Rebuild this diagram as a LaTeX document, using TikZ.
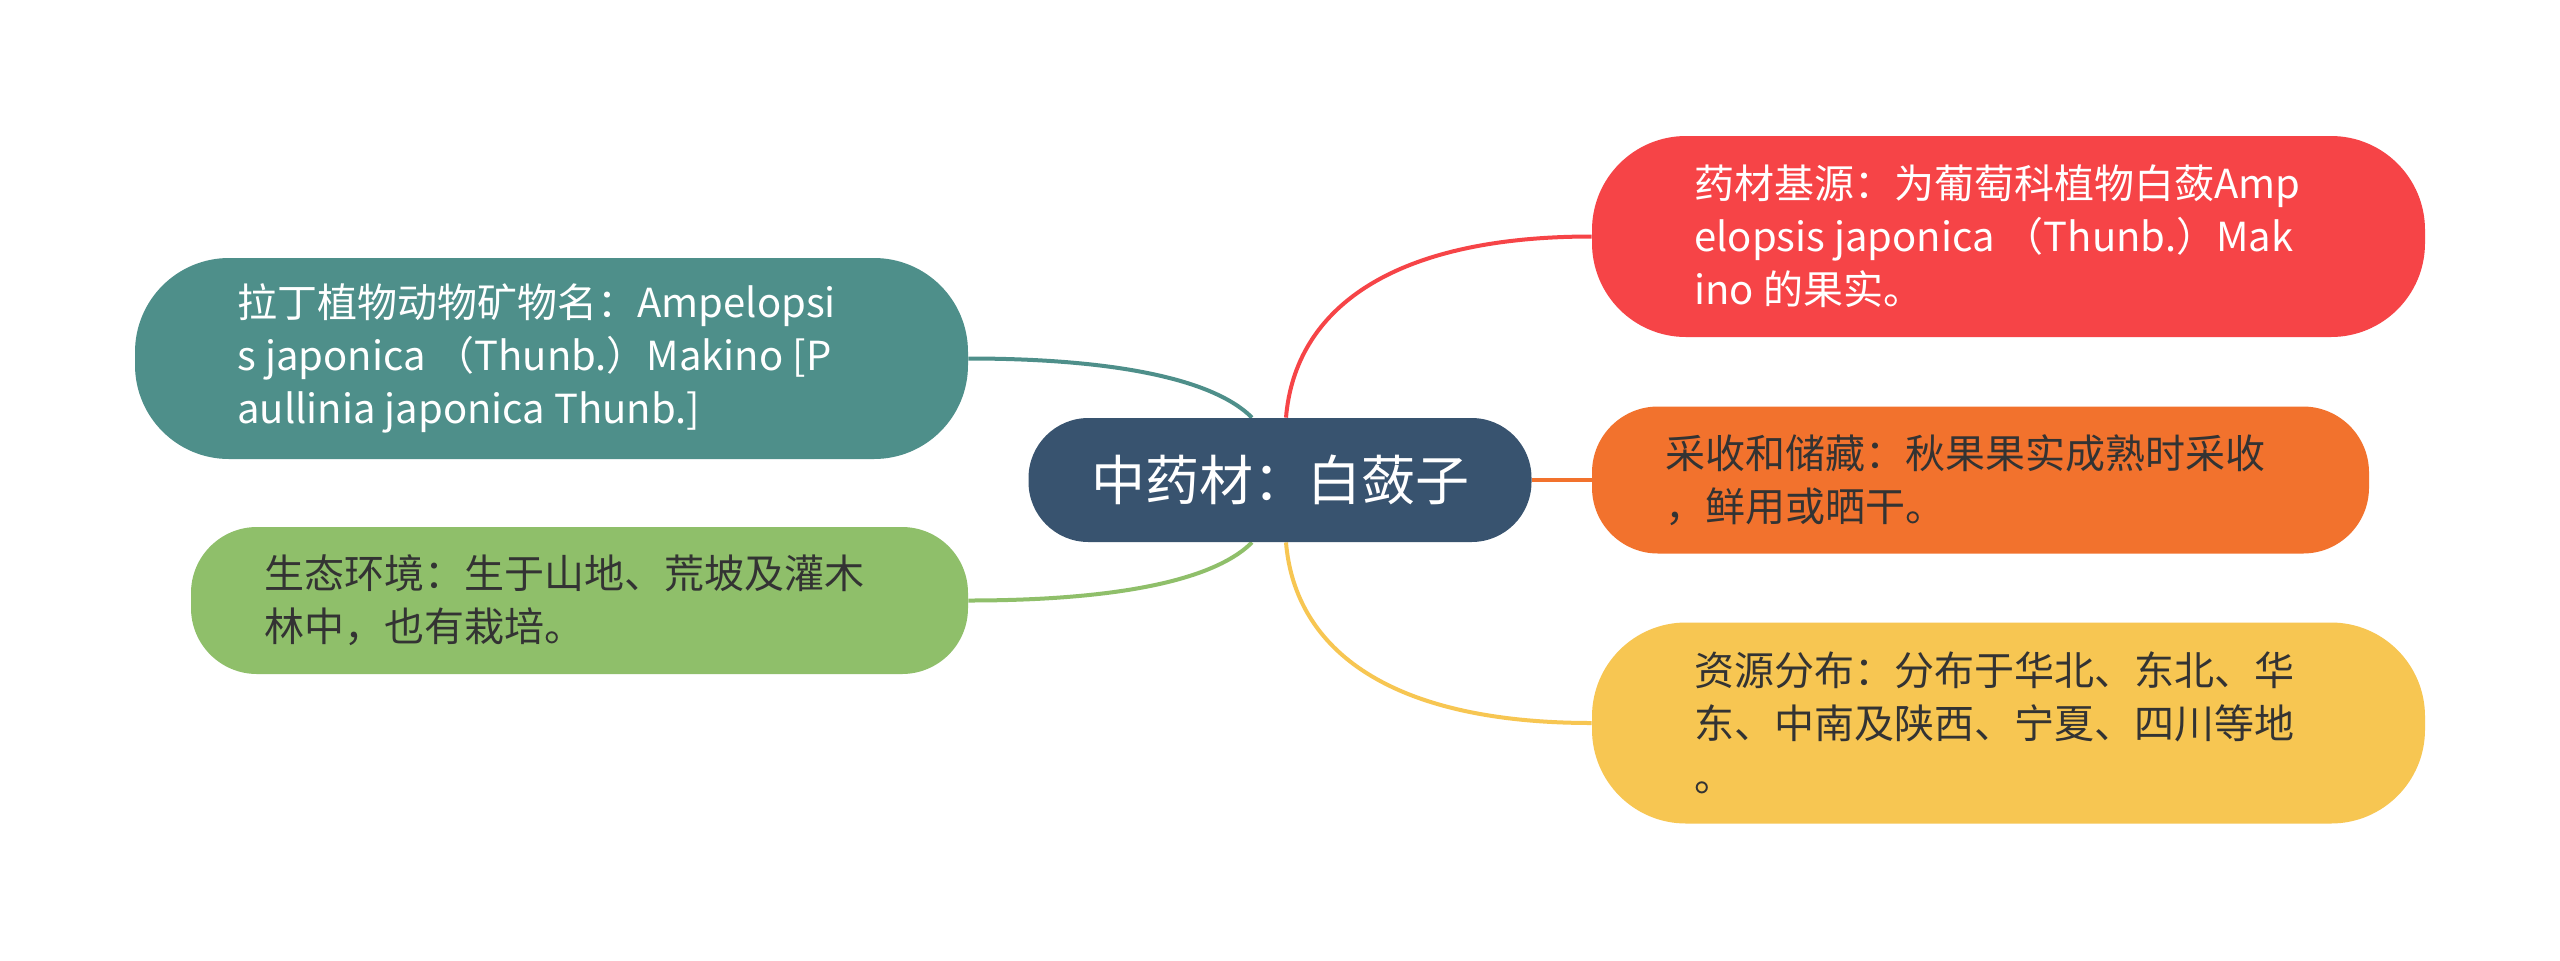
\documentclass[tikz,border=0pt]{standalone}
\usepackage{fontspec}
\newfontfamily\cjk{Noto Sans CJK SC}
\usetikzlibrary{backgrounds}
\definecolor{cCenter}{HTML}{38536F}
\definecolor{cTeal}{HTML}{4E8F8A}
\definecolor{cGreen}{HTML}{8FBF6A}
\definecolor{cRed}{HTML}{F64447}
\definecolor{cOrange}{HTML}{F2722D}
\definecolor{cYellow}{HTML}{F7C652}
\definecolor{cDark}{HTML}{333333}
\begin{document}
\begin{tikzpicture}[x=0.5pt,y=-0.5pt,
  pill/.style={rectangle, inner sep=0pt, draw=none},
  bigpill/.style={pill, minimum width=416.5pt, minimum height=100.5pt, rounded corners=47pt},
  smallpill/.style={pill, minimum width=388.5pt, minimum height=73.5pt, rounded corners=33pt},
  txt/.style={anchor=west, inner sep=0pt, align=left, font=\cjk\fontsize{20pt}{26.5pt}\selectfont},
  link/.style={line width=2pt}]
\useasboundingbox (0,0) rectangle (2560,960);

% nodes
\node[pill, fill=cCenter, minimum width=251.5pt, minimum height=62pt, rounded corners=30pt,
      text=white, font=\cjk\fontsize{27pt}{32pt}\selectfont] (c) at (1280,480) {中药材：白蔹子};
\node[bigpill, fill=cTeal] (t) at (551.5,358.5) {};
\node[smallpill, fill=cGreen] (g) at (579.5,600.5) {};
\node[bigpill, fill=cRed] (r) at (2008.5,236.5) {};
\node[smallpill, fill=cOrange] (o) at (1980.5,480) {};
\node[bigpill, fill=cYellow] (y) at (2008.5,723) {};

% texts
\node[txt, text=white] (tt) at (237,358.5) {拉丁植物动物矿物名：Ampelopsi\\s japonica （Thunb.）Makino [P\\aullinia japonica Thunb.]};
\node[txt, text=cDark] (gt) at (264,600.5) {生态环境：生于山地、荒坡及灌木\\林中，也有栽培。};
\node[txt, text=white] (rt) at (1694,236.5) {药材基源：为葡萄科植物白蔹Amp\\elopsis japonica （Thunb.）Mak\\ino 的果实。};
\node[txt, text=cDark] (ot) at (1665,480) {采收和储藏：秋果果实成熟时采收\\，鲜用或晒干。};
\node[txt, text=cDark] (yt) at (1694,723) {资源分布：分布于华北、东北、华\\东、中南及陕西、宁夏、四川等地\\。};

% connectors
\begin{scope}[on background layer]
\fill[white] (0,0) rectangle (2560,960);
\draw[link, cTeal] (t.east) .. controls +(132,0) and +(-42,-42) .. ([xshift=-14pt]c.north);
\draw[link, cGreen] (g.east) .. controls +(132,0) and +(-42,42) .. ([xshift=-14pt]c.south);
\draw[link, cRed] ([xshift=3pt]c.north) .. controls +(9,-108) and +(-201,0) .. (r.west);
\draw[link, cOrange] (c.east) -- (o.west);
\draw[link, cYellow] ([xshift=3pt]c.south) .. controls +(9,108) and +(-201,0) .. (y.west);
\end{scope}
\end{tikzpicture}
\end{document}
